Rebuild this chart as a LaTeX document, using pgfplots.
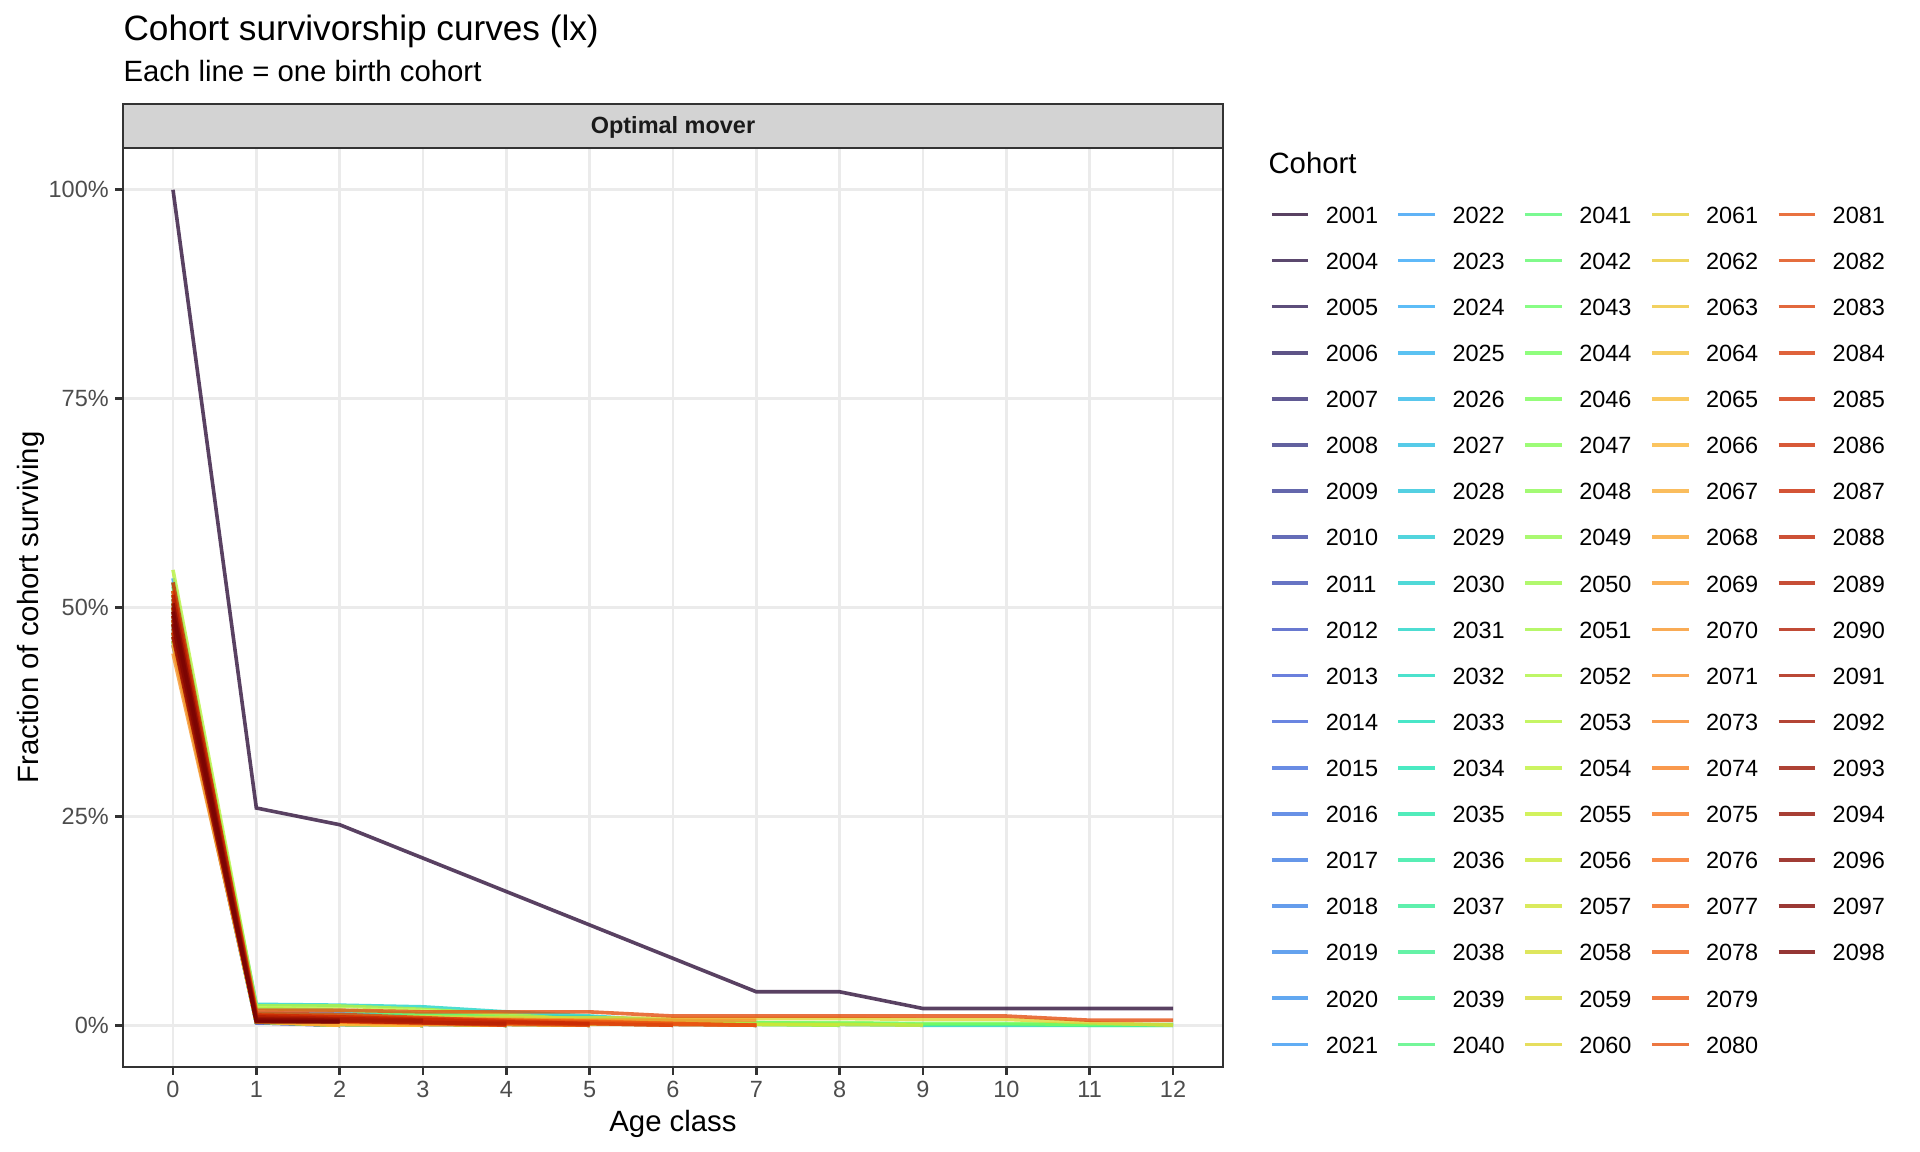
\documentclass[border=0pt]{standalone}
\usepackage{fontspec}
\setmainfont{Liberation Sans}
\usepackage{pgfplots}
\pgfplotsset{compat=1.18}
\definecolor{grey10}{HTML}{1A1A1A}
\definecolor{grey20}{HTML}{333333}
\definecolor{grey30}{HTML}{4D4D4D}
\definecolor{grey92}{HTML}{EBEBEB}
\definecolor{stripfill}{HTML}{D3D3D3}
\begin{document}
\begin{tikzpicture}
\useasboundingbox (-44.28pt,-30.6pt) rectangle (646.92pt,384.12pt);
\begin{axis}[
  scale only axis, width=396pt, height=330.84pt,
  xmin=-0.6, xmax=12.6, ymin=-0.05, ymax=1.05,
  xtick={0,1,2,3,4,5,6,7,8,9,10,11,12},
  xticklabels={0,1,2,3,4,5,6,7,8,9,10,11,12},
  ytick={0,0.25,0.5,0.75,1},
  yticklabels={0\%,25\%,50\%,75\%,100\%},
  tick pos=left, tick align=outside, major tick length=2.75pt,
  grid=major, major grid style={draw=grey92, line width=1.05pt},
  axis line style={draw=grey20, line width=1.05pt},
  every tick/.style={draw=grey20, line width=1.05pt},
  ticklabel style={font=\fontsize{8.45}{10}\selectfont, text=grey30, inner sep=0pt},
  xticklabel shift=2.2pt, yticklabel shift=2.2pt,
  xlabel={Age class}, ylabel={Fraction of cohort surviving},
  label style={font=\fontsize{10.56}{12.5}\selectfont, inner sep=0pt},
  xlabel style={at={(axis description cs:0.5,-0.07073)}, anchor=base},
  ylabel style={at={(axis description cs:-0.0841,0.5)}, anchor=center, rotate=0},
  colormap={turbo}{rgb255=(48,18,59) rgb255=(70,98,215) rgb255=(54,170,249) rgb255=(26,228,182) rgb255=(114,254,94) rgb255=(200,239,52) rgb255=(250,186,57) rgb255=(246,107,25) rgb255=(203,42,4) rgb255=(122,4,3)},
  cycle list={[samples of colormap=93]},
  no markers,
  every axis plot/.append style={line width=1.3pt, draw opacity=0.8},
  legend columns=19, transpose legend,
  legend cell align=left,
  legend image code/.code={\draw[#1] (0pt,0pt) -- (13.18pt,0pt);},
  legend style={at={(1.0427,0.9373)}, anchor=north west, draw=none, fill=none,
    inner sep=0pt, outer sep=0pt, font=\fontsize{8.45}{10}\selectfont,
    row sep=10.3pt, column sep=5.64pt,
    nodes={inner sep=0pt, text height=6.3pt, text depth=0pt},
    /tikz/every even column/.append style={column sep=6.7pt}},
]
\addplot coordinates {(0,1)(1,0.26)(2,0.24)(3,0.2)(4,0.16)(5,0.12)(6,0.08)(7,0.04)(8,0.04)(9,0.02)(10,0.02)(11,0.02)(12,0.02)}; \addlegendentry{2001}
\addplot coordinates {(0,0.47)(1,0.004)(2,0)}; \addlegendentry{2004}
\addplot coordinates {(0,0.49)(1,0.006)(2,0.002)(3,0)}; \addlegendentry{2005}
\addplot coordinates {(0,0.46)(1,0.003)(2,0)}; \addlegendentry{2006}
\addplot coordinates {(0,0.48)(1,0.005)(2,0.001)(3,0)}; \addlegendentry{2007}
\addplot coordinates {(0,0.50)(1,0.008)(2,0.004)(3,0.001)(4,0)}; \addlegendentry{2008}
\addplot coordinates {(0,0.465)(1,0.004)(2,0)}; \addlegendentry{2009}
\addplot coordinates {(0,0.53)(1,0.010)(2,0.006)(3,0.002)(4,0)}; \addlegendentry{2010}
\addplot coordinates {(0,0.475)(1,0.005)(2,0)}; \addlegendentry{2011}
\addplot coordinates {(0,0.495)(1,0.007)(2,0.003)(3,0)}; \addlegendentry{2012}
\addplot coordinates {(0,0.455)(1,0.003)(2,0)}; \addlegendentry{2013}
\addplot coordinates {(0,0.51)(1,0.009)(2,0.005)(3,0.002)(4,0)}; \addlegendentry{2014}
\addplot coordinates {(0,0.485)(1,0.006)(2,0.002)(3,0)}; \addlegendentry{2015}
\addplot coordinates {(0,0.47)(1,0.004)(2,0)}; \addlegendentry{2016}
\addplot coordinates {(0,0.50)(1,0.008)(2,0.004)(3,0)}; \addlegendentry{2017}
\addplot coordinates {(0,0.48)(1,0.005)(2,0.001)(3,0)}; \addlegendentry{2018}
\addplot coordinates {(0,0.52)(1,0.011)(2,0.008)(3,0.004)(4,0.001)(5,0)}; \addlegendentry{2019}
\addplot coordinates {(0,0.49)(1,0.007)(2,0.003)(3,0)}; \addlegendentry{2020}
\addplot coordinates {(0,0.505)(1,0.009)(2,0.006)(3,0.002)(4,0)}; \addlegendentry{2021}
\addplot coordinates {(0,0.535)(1,0.014)(2,0.014)(3,0.013)(4,0.011)(5,0.010)(6,0.004)(7,0)}; \addlegendentry{2022}
\addplot coordinates {(0,0.48)(1,0.006)(2,0.002)(3,0)}; \addlegendentry{2023}
\addplot coordinates {(0,0.50)(1,0.010)(2,0.007)(3,0.004)(4,0.001)(5,0)}; \addlegendentry{2024}
\addplot coordinates {(0,0.465)(1,0.004)(2,0)}; \addlegendentry{2025}
\addplot coordinates {(0,0.51)(1,0.012)(2,0.010)(3,0.008)(4,0.004)(5,0.002)(6,0)}; \addlegendentry{2026}
\addplot coordinates {(0,0.49)(1,0.007)(2,0.003)(3,0)}; \addlegendentry{2027}
\addplot coordinates {(0,0.475)(1,0.005)(2,0.001)(3,0)}; \addlegendentry{2028}
\addplot coordinates {(0,0.52)(1,0.013)(2,0.011)(3,0.009)(4,0.006)(5,0.003)(6,0.001)(7,0)}; \addlegendentry{2029}
\addplot coordinates {(0,0.495)(1,0.008)(2,0.004)(3,0)}; \addlegendentry{2030}
\addplot coordinates {(0,0.52)(1,0.025)(2,0.024)(3,0.022)(4,0.016)(5,0.011)(6,0.005)(7,0.002)(8,0.001)(9,0)(10,0)(11,0)(12,0)}; \addlegendentry{2031}
\addplot coordinates {(0,0.47)(1,0.005)(2,0.001)(3,0)}; \addlegendentry{2032}
\addplot coordinates {(0,0.505)(1,0.010)(2,0.006)(3,0.003)(4,0)}; \addlegendentry{2033}
\addplot coordinates {(0,0.485)(1,0.006)(2,0.002)(3,0)}; \addlegendentry{2034}
\addplot coordinates {(0,0.515)(1,0.013)(2,0.012)(3,0.012)(4,0.010)(5,0.008)(6,0.003)(7,0.001)(8,0)}; \addlegendentry{2035}
\addplot coordinates {(0,0.46)(1,0.004)(2,0)}; \addlegendentry{2036}
\addplot coordinates {(0,0.50)(1,0.009)(2,0.005)(3,0.002)(4,0)}; \addlegendentry{2037}
\addplot coordinates {(0,0.48)(1,0.006)(2,0.002)(3,0)}; \addlegendentry{2038}
\addplot coordinates {(0,0.525)(1,0.014)(2,0.012)(3,0.010)(4,0.009)(5,0.009)(6,0.006)(7,0.003)(8,0.002)(9,0.001)(10,0.001)(11,0)(12,0)}; \addlegendentry{2039}
\addplot coordinates {(0,0.49)(1,0.007)(2,0.003)(3,0)}; \addlegendentry{2040}
\addplot coordinates {(0,0.505)(1,0.010)(2,0.006)(3,0.002)(4,0)}; \addlegendentry{2041}
\addplot coordinates {(0,0.47)(1,0.005)(2,0.001)(3,0)}; \addlegendentry{2042}
\addplot coordinates {(0,0.515)(1,0.012)(2,0.009)(3,0.005)(4,0.002)(5,0)}; \addlegendentry{2043}
\addplot coordinates {(0,0.485)(1,0.006)(2,0.002)(3,0)}; \addlegendentry{2044}
\addplot coordinates {(0,0.53)(1,0.020)(2,0.018)(3,0.014)(4,0.010)(5,0.006)(6,0.004)(7,0.003)(8,0.003)(9,0.002)(10,0.002)(11,0.001)(12,0.001)}; \addlegendentry{2046}
\addplot coordinates {(0,0.46)(1,0.004)(2,0)}; \addlegendentry{2047}
\addplot coordinates {(0,0.50)(1,0.009)(2,0.005)(3,0.002)(4,0)}; \addlegendentry{2048}
\addplot coordinates {(0,0.48)(1,0.006)(2,0.002)(3,0)}; \addlegendentry{2049}
\addplot coordinates {(0,0.495)(1,0.008)(2,0.004)(3,0.001)(4,0)}; \addlegendentry{2050}
\addplot coordinates {(0,0.47)(1,0.005)(2,0)}; \addlegendentry{2051}
\addplot coordinates {(0,0.51)(1,0.011)(2,0.007)(3,0.003)(4,0)}; \addlegendentry{2052}
\addplot coordinates {(0,0.545)(1,0.023)(2,0.023)(3,0.019)(4,0.013)(5,0.006)(6,0.003)(7,0.001)(8,0)}; \addlegendentry{2053}
\addplot coordinates {(0,0.485)(1,0.006)(2,0.002)(3,0)}; \addlegendentry{2054}
\addplot coordinates {(0,0.50)(1,0.009)(2,0.005)(3,0.002)(4,0)}; \addlegendentry{2055}
\addplot coordinates {(0,0.465)(1,0.004)(2,0)}; \addlegendentry{2056}
\addplot coordinates {(0,0.52)(1,0.012)(2,0.008)(3,0.004)(4,0.002)(5,0.001)(6,0.001)(7,0.001)(8,0.001)(9,0)}; \addlegendentry{2057}
\addplot coordinates {(0,0.48)(1,0.006)(2,0.002)(3,0)}; \addlegendentry{2058}
\addplot coordinates {(0,0.505)(1,0.010)(2,0.006)(3,0.003)(4,0.001)(5,0)}; \addlegendentry{2059}
\addplot coordinates {(0,0.49)(1,0.012)(2,0.011)(3,0.010)(4,0.009)(5,0.009)(6,0.008)(7,0.008)(8,0.008)(9,0.007)(10,0.007)(11,0.003)(12,0)}; \addlegendentry{2060}
\addplot coordinates {(0,0.475)(1,0.005)(2,0.001)(3,0)}; \addlegendentry{2061}
\addplot coordinates {(0,0.50)(1,0.009)(2,0.005)(3,0.002)(4,0)}; \addlegendentry{2062}
\addplot coordinates {(0,0.46)(1,0.004)(2,0)}; \addlegendentry{2063}
\addplot coordinates {(0,0.515)(1,0.011)(2,0.008)(3,0.004)(4,0.001)(5,0)}; \addlegendentry{2064}
\addplot coordinates {(0,0.485)(1,0.006)(2,0.002)(3,0)}; \addlegendentry{2065}
\addplot coordinates {(0,0.47)(1,0.005)(2,0.001)(3,0)}; \addlegendentry{2066}
\addplot coordinates {(0,0.50)(1,0.010)(2,0.007)(3,0.004)(4,0.002)(5,0)}; \addlegendentry{2067}
\addplot coordinates {(0,0.455)(1,0.004)(2,0)}; \addlegendentry{2068}
\addplot coordinates {(0,0.49)(1,0.008)(2,0.004)(3,0.001)(4,0)}; \addlegendentry{2069}
\addplot coordinates {(0,0.445)(1,0.009)(2,0.009)(3,0.008)(4,0.007)(5,0.006)(6,0.006)(7,0.006)}; \addlegendentry{2070}
\addplot coordinates {(0,0.50)(1,0.010)(2,0.008)(3,0.006)(4,0.004)(5,0.002)(6,0)}; \addlegendentry{2071}
\addplot coordinates {(0,0.48)(1,0.007)(2,0.005)(3,0.003)(4,0.001)(5,0)}; \addlegendentry{2073}
\addplot coordinates {(0,0.515)(1,0.012)(2,0.010)(3,0.008)(4,0.006)(5,0.004)(6,0.002)(7,0)}; \addlegendentry{2074}
\addplot coordinates {(0,0.465)(1,0.006)(2,0.004)(3,0.002)(4,0)}; \addlegendentry{2075}
\addplot coordinates {(0,0.495)(1,0.009)(2,0.008)(3,0.007)(4,0.006)(5,0.005)(6,0.002)(7,0)}; \addlegendentry{2076}
\addplot coordinates {(0,0.47)(1,0.006)(2,0.005)(3,0.004)(4,0.003)(5,0.002)(6,0)}; \addlegendentry{2077}
\addplot coordinates {(0,0.505)(1,0.010)(2,0.008)(3,0.006)(4,0.004)(5,0.003)(6,0.001)(7,0)}; \addlegendentry{2078}
\addplot coordinates {(0,0.485)(1,0.007)(2,0.006)(3,0.005)(4,0.004)(5,0.003)(6,0.001)(7,0)}; \addlegendentry{2079}
\addplot coordinates {(0,0.52)(1,0.012)(2,0.010)(3,0.008)(4,0.006)(5,0.004)(6,0.002)(7,0)}; \addlegendentry{2080}
\addplot coordinates {(0,0.52)(1,0.018)(2,0.018)(3,0.016)(4,0.016)(5,0.016)(6,0.011)(7,0.011)(8,0.011)(9,0.011)(10,0.011)(11,0.006)(12,0.006)}; \addlegendentry{2081}
\addplot coordinates {(0,0.49)(1,0.008)(2,0.006)(3,0.004)(4,0.002)(5,0)}; \addlegendentry{2082}
\addplot coordinates {(0,0.50)(1,0.014)(2,0.013)(3,0.009)(4,0.005)(5,0.002)(6,0)}; \addlegendentry{2083}
\addplot coordinates {(0,0.475)(1,0.007)(2,0.005)(3,0.003)(4,0)}; \addlegendentry{2084}
\addplot coordinates {(0,0.51)(1,0.010)(2,0.008)(3,0.006)(4,0.003)(5,0.001)}; \addlegendentry{2085}
\addplot coordinates {(0,0.48)(1,0.007)(2,0.005)(3,0.003)(4,0.001)}; \addlegendentry{2086}
\addplot coordinates {(0,0.53)(1,0.012)(2,0.010)(3,0.007)(4,0.004)(5,0.002)}; \addlegendentry{2087}
\addplot coordinates {(0,0.495)(1,0.008)(2,0.006)(3,0.004)(4,0.002)}; \addlegendentry{2088}
\addplot coordinates {(0,0.47)(1,0.006)(2,0.005)(3,0.003)(4,0.002)}; \addlegendentry{2089}
\addplot coordinates {(0,0.515)(1,0.010)(2,0.008)(3,0.006)}; \addlegendentry{2090}
\addplot coordinates {(0,0.485)(1,0.007)(2,0.006)(3,0.005)}; \addlegendentry{2091}
\addplot coordinates {(0,0.50)(1,0.008)(2,0.007)}; \addlegendentry{2092}
\addplot coordinates {(0,0.465)(1,0.006)(2,0.005)}; \addlegendentry{2093}
\addplot coordinates {(0,0.49)(1,0.007)(2,0.006)}; \addlegendentry{2094}
\addplot coordinates {(0,0.505)(1,0.006)(2,0.005)}; \addlegendentry{2096}
\addplot coordinates {(0,0.48)(1,0.005)(2,0.004)}; \addlegendentry{2097}
\addplot coordinates {(0,0.495)(1,0.004)(2,0.004)}; \addlegendentry{2098}
\addlegendimage{empty legend}\addlegendentry{}
\addlegendimage{empty legend}\addlegendentry{}
\end{axis}
\node[anchor=base west, inner sep=0pt, font=\fontsize{12.67}{15}\selectfont] at (0pt,369.36pt) {Cohort survivorship curves (lx)};
\node[anchor=base west, inner sep=0pt, font=\fontsize{10.56}{12.5}\selectfont] at (0pt,354.6pt) {Each line = one birth cohort};
\draw[grey20, line width=1.05pt, fill=stripfill] (0pt,330.84pt) rectangle (396pt,346.68pt);
\node[inner sep=0pt, font=\fontsize{8.45}{10}\selectfont\bfseries, text=grey10] at (198pt,338.1pt) {Optimal mover};
\node[anchor=west, inner sep=0pt, font=\fontsize{10.56}{12.5}\selectfont] at (412.2pt,325.3pt) {Cohort};
\end{tikzpicture}
\end{document}
